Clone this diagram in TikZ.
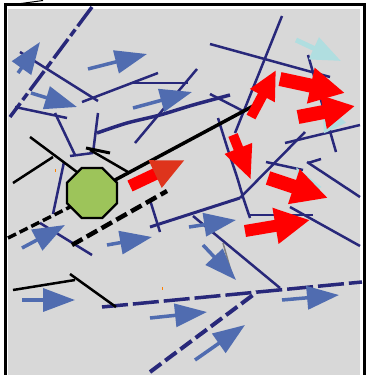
\documentclass[tikz,border=0pt]{standalone}
\usepackage{xcolor}
\usetikzlibrary{arrows.meta,shapes.geometric}
\definecolor{panelgray}{RGB}{216,216,216}
\definecolor{wireblue}{RGB}{40,40,122}
\definecolor{flowblue}{RGB}{80,108,176}
\definecolor{flowcyan}{RGB}{176,222,224}
\definecolor{hotred}{RGB}{255,0,0}
\definecolor{headred}{RGB}{222,52,28}
\definecolor{padgreen}{RGB}{157,196,90}
\tikzset{
  wire/.style={wireblue,line width=2.5pt},
  cable/.style={black,line width=2.5pt},
  flow/.style={flowblue,line width=3.5pt,-{Triangle[length=32pt,width=23pt]}},
  coolflow/.style={flowcyan,line width=5pt,-{Triangle[length=30pt,width=23pt]}},
  heat/.style={hotred,line width=12pt},
}

\begin{document}
\begin{tikzpicture}[x=1pt,y=-1pt]
  \useasboundingbox (0,0) rectangle (366,375);
  \fill[panelgray] (8,9) rectangle (360,375);
  \draw[line width=2.5pt] (5.5,375) -- (5.5,4.5) -- (364.5,4.5) -- (364.5,375);
  \draw[line width=1pt] (10,5) -- (43,0.5);

  % wiring
  \foreach \xa/\ya/\xb/\yb in {20/52/98/101, 82/102/158/73, 130/83/188/83,
      135/143/197/69, 210/44/330/77, 210/94/245/112, 98/113/93/153,
      15/107/67/118, 55/113/75/155, 70/156/93/153, 64/162/53/214,
      282/16/235/133, 308/55/336/152, 285/143/360/125, 305/132/240/198,
      250/215/313/215, 266/162/303/170, 308/163/321/159, 307/162/360/197,
      290/207/360/246, 193/216/280/288, 150/200/160/232, 40/223/92/255}
    \draw[wire] (\xa,\ya) -- (\xb,\yb);
  \draw[wire,line width=3.5pt] plot[smooth] coordinates {(97,133) (127,123) (160,115) (193,105) (230,95)};
  \draw[wire,line width=3pt] (150,227) -- (240,198);
  \draw[wire] plot[smooth] coordinates {(218,118) (228,150) (237,177) (243,197) (250,218)};
  \draw[wireblue,line width=3.5pt,dash pattern=on 24pt off 4pt on 8pt off 4pt] (92,7) -- (10,117);
  \draw[wireblue,line width=3.5pt,dash pattern=on 26pt off 5pt] (102,307) -- (362,282);
  \draw[wireblue,line width=4pt,dash pattern=on 14pt off 5pt] (150,372) -- (257,292);

  \foreach \xa/\ya/\xb/\yb in {90/150/128/172, 30/137/77/172, 13/183/53/157,
      13/290/75/280, 70/274/116/307}
    \draw[cable] (\xa,\ya) -- (\xb,\yb);
  \draw[cable,line width=3.5pt] (115,180) -- (255,105);
  \draw[cable,line width=3pt] (86,148) -- (110,153);
  \draw[line width=3.5pt,dash pattern=on 9pt off 4pt] (8,238) -- (70,207);
  \draw[line width=4.5pt,dash pattern=on 12pt off 5pt] (72,245) -- (167,191);
  \draw[gray,line width=1.5pt] (223,243) -- (233,278);
  \draw[orange,line width=1pt] (55,169) -- (55,172) (162,287) -- (162,290);

  \node[regular polygon,regular polygon sides=8,minimum size=54pt,inner sep=0pt,
    fill=padgreen,draw=black,line width=2.2pt] (pad) at (92,193) {};

  % air flow
  \foreach \xa/\ya/\xb/\yb in {18/73/40/42, 88/69/147/54, 31/93/77/107,
      133/108/192/92, 22/248/65/225, 107/245/152/237, 189/227/236/220,
      203/245/236/280, 22/300/75/300, 150/318/207/312, 195/360/245/325,
      282/300/339/295}
    \draw[flow] (\xa,\ya) -- (\xb,\yb);
  \draw[coolflow] (296,40) -- (341,61);
  \draw[coolflow] (312,195) -- (296,167);
  \draw[coolflow] (335,128) -- (322,101);

  % heat flow
  \draw[heat,-{Triangle[length=33pt,width=28pt,color=headred]}] (130,186) -- (185,160);
  \draw[heat,line width=10pt,-{Triangle[length=29pt,width=26pt]}] (251,117) -- (276,70);
  \draw[heat,line width=10pt,-{Triangle[length=34pt,width=27pt]}] (233,135) -- (251,180);
  \draw[heat,line width=14pt,-{Triangle[length=35pt,width=34pt]}] (280,79) -- (345,93);
  \draw[heat,line width=14pt,-{Triangle[length=32pt,width=32pt]}] (298,117) -- (355,106);
  \draw[heat,line width=14pt,-{Triangle[length=36pt,width=34pt]}] (268,178) -- (328,198);
  \draw[heat,-{Triangle[length=35pt,width=34pt]}] (245,231) -- (310,220);
\end{tikzpicture}
\end{document}
